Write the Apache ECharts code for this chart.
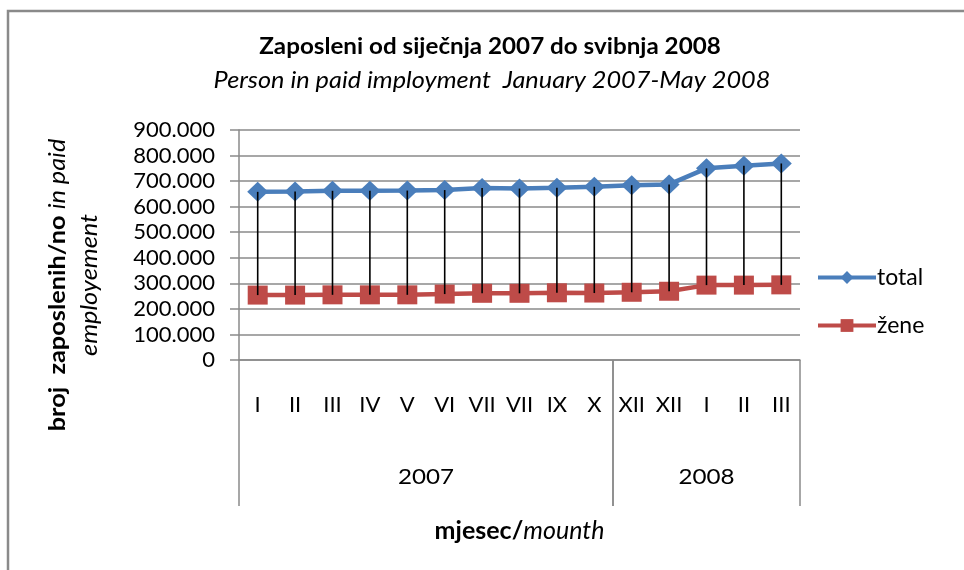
<!DOCTYPE html>
<html>
<head>
<meta charset="utf-8">
<script src="https://cdn.jsdelivr.net/npm/echarts@6/dist/echarts.min.js"></script>
<style>
html,body{margin:0;padding:0;background:#fff;}
#c{width:964px;height:570px;}
</style>
</head>
<body>
<div id="c"></div>
<script>
const months = ['I','II','III','IV','V','VI','VII','VII','IX','X','XII','XII','I','II','III'];
const total = [658000, 659000, 662000, 662000, 663000, 665000, 673000, 671000, 674000, 678000, 684000, 687000, 750000, 760000, 769000];
const zene = [254000, 254000, 255000, 255000, 255000, 258000, 261000, 261000, 263000, 262000, 265000, 269000, 293000, 293000, 294000];
const yearGroups = [['2007', 0, 9], ['2008', 10, 14]];
const yTicks = [0, 100000, 200000, 300000, 400000, 500000, 600000, 700000, 800000, 900000];

const FONT = 'Lato';
const chart = echarts.init(document.getElementById('c'));

const fmt = v => v === 0 ? '0' : String(v).replace(/\B(?=(\d{3})+(?!\d))/g, '.');

chart.setOption({
  backgroundColor: '#fff',
  animation: false,
  graphic: [
    { type: 'rect', shape: { x: 8, y: 11, width: 1000, height: 1000 }, style: { fill: 'none', stroke: '#8a8a8a', lineWidth: 2.5 }, silent: true, z: -1 },
    { type: 'text', x: 490, y: 47, scaleX: 1.1, style: { text: 'Zaposleni od siječnja 2007 do svibnja 2008', font: 'bold 22px ' + FONT, fill: '#000', textAlign: 'center', textVerticalAlign: 'middle' } },
    { type: 'text', x: 492, y: 81, scaleX: 1.1, style: { text: 'Person in paid imployment  January 2007-May 2008', font: 'italic 23px ' + FONT, fill: '#000', textAlign: 'center', textVerticalAlign: 'middle' } },
    {
      type: 'text', x: 74, y: 285, rotation: Math.PI / 2, scaleX: 1.1,
      style: {
        text: '{b|broj  zaposlenih/no }{i|in paid}\n{i|employement}',
        align: 'center', verticalAlign: 'middle', fill: '#000',
        fontFamily: FONT, fontSize: 23, lineHeight: 32,
        rich: {
          b: { fontFamily: FONT, fontSize: 23, fontWeight: 'bold', fill: '#000', lineHeight: 32 },
          i: { fontFamily: FONT, fontSize: 23, fontStyle: 'italic', fill: '#000', lineHeight: 32 }
        }
      }
    }
  ],
  legend: {
    data: [
      { name: 'total', lineStyle: { width: 4 } },
      { name: 'žene', lineStyle: { width: 4 } }
    ],
    orient: 'vertical',
    left: 811,
    top: 261,
    itemWidth: 58,
    itemHeight: 16,
    itemGap: 25,
    lineStyle: { width: 4 },
    textStyle: { fontFamily: FONT, fontSize: 23, color: '#000', padding: [0, 0, 0, -4] }
  },
  grid: { left: 239, right: 164, top: 130, bottom: 210, containLabel: false },
  xAxis: {
    type: 'category',
    data: months,
    axisLine: { show: true, lineStyle: { color: '#8a8a8a', width: 1.5 } },
    axisTick: { show: false },
    axisLabel: { fontFamily: FONT, fontSize: 22, color: '#000', margin: 34, interval: 0 },
    name: '{b|mjesec/}{i|mounth}',
    nameLocation: 'middle',
    nameGap: 158,
    nameTextStyle: {
      fontFamily: FONT, fontSize: 25, color: '#000',
      rich: { b: { fontFamily: FONT, fontSize: 25, fontWeight: 'bold', color: '#000' }, i: { fontFamily: FONT, fontSize: 25, fontStyle: 'italic', color: '#000' } }
    }
  },
  yAxis: {
    type: 'value',
    min: 0, max: 900000, interval: 100000,
    axisLine: { show: true, lineStyle: { color: '#8a8a8a', width: 1.5 } },
    axisTick: { show: true, inside: false, length: 9, lineStyle: { color: '#8a8a8a', width: 1.5 } },
    splitLine: { show: true, lineStyle: { color: '#8a8a8a', width: 1.5 } },
    axisLabel: { fontFamily: FONT, fontSize: 22, color: '#000', margin: 24, formatter: v => yTicks.includes(v) ? fmt(v) : '' }
  },
  series: [
    {
      name: 'total', type: 'line', data: total,
      symbol: 'diamond', symbolSize: [21, 20],
      lineStyle: { color: '#4a7ebb', width: 4.5 },
      itemStyle: { color: '#4a7ebb' },
      z: 3
    },
    {
      name: 'žene', type: 'line', data: zene,
      symbol: 'rect', symbolSize: [20, 19],
      lineStyle: { color: '#be4b48', width: 4.5 },
      itemStyle: { color: '#be4b48' },
      z: 3
    },
    {
      name: 'hilo', type: 'custom', z: 5, silent: true,
      data: total.map((t, i) => [i, t, zene[i]]),
      encode: { x: 0, y: [1, 2] },
      renderItem: (params, api) => {
        const a = api.coord([api.value(0), api.value(1)]);
        const b = api.coord([api.value(0), api.value(2)]);
        return { type: 'line', shape: { x1: a[0], y1: a[1], x2: b[0], y2: b[1] }, style: { stroke: '#000', lineWidth: 1.6 } };
      }
    },
    {
      name: 'years', type: 'custom', z: 2, silent: true, clip: false,
      data: yearGroups.map(g => [g[1], g[2], g[0]]),
      encode: { x: [0, 1] },
      renderItem: (params, api) => {
        const s = api.value(0), e = api.value(1);
        const label = yearGroups[params.dataIndex][0];
        const p0 = api.coord([s, 0]);
        const p1 = api.coord([e, 0]);
        const bw = api.size([1, 0])[0];
        const xl = p0[0] - bw / 2, xr = p1[0] + bw / 2, y0 = p0[1];
        return {
          type: 'group',
          children: [
            { type: 'line', shape: { x1: xl, y1: y0, x2: xl, y2: y0 + 146 }, style: { stroke: '#8a8a8a', lineWidth: 1.5 } },
            { type: 'line', shape: { x1: xr, y1: y0, x2: xr, y2: y0 + 146 }, style: { stroke: '#8a8a8a', lineWidth: 1.5 } },
            { type: 'text', x: (xl + xr) / 2, y: y0 + 117, scaleX: 1.1, style: { text: label, font: '22px ' + FONT, fill: '#000', textAlign: 'center', textVerticalAlign: 'middle' } }
          ]
        };
      }
    }
  ]
});
</script>
</body>
</html>
